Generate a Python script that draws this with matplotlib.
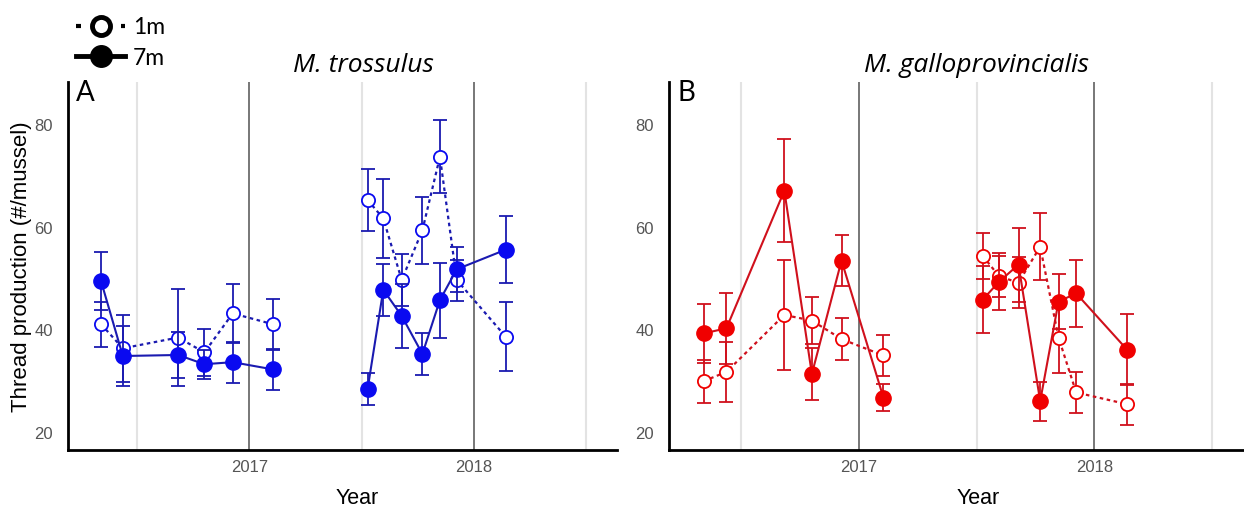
import numpy as np
import matplotlib.pyplot as plt
from matplotlib.lines import Line2D

plt.rcParams['font.family'] = 'Liberation Sans'

# sampling dates (decimal year), two deployment seasons
dates = [2016.340, 2016.437, 2016.683, 2016.800, 2016.926, 2017.104,
         2017.526, 2017.596, 2017.678, 2017.770, 2017.848, 2017.923, 2018.140]
season = [1, 1, 1, 1, 1, 1, 2, 2, 2, 2, 2, 2, 2]

# M. trossulus, mean thread production and standard error
tros_7m = [49.6, 35.0, 35.2, 33.4, 33.8, 32.4, 28.5, 47.9, 42.8, 35.4, 45.9, 51.9, 55.7]
tros_7m_se = [5.7, 5.9, 4.5, 2.8, 4.0, 4.0, 3.1, 5.1, 6.3, 4.1, 7.3, 4.4, 6.5]
tros_1m = [41.2, 36.5, 38.6, 35.7, 43.3, 41.2, 65.4, 61.8, 49.8, 59.5, 73.8, 49.8, 38.8]
tros_1m_se = [4.4, 6.5, 9.4, 4.6, 5.7, 5.0, 6.0, 7.7, 5.1, 6.5, 7.1, 4.0, 6.7]

# M. galloprovincialis
gallo_7m = [39.4, 40.4, 67.2, 31.5, 53.6, 26.9, 46.0, 49.5, 52.8, 26.2, 45.6, 47.2, 36.2]
gallo_7m_se = [5.8, 6.9, 10.0, 5.1, 5.0, 2.7, 6.6, 5.5, 7.2, 3.8, 5.4, 6.5, 6.9]
gallo_1m = [30.1, 31.9, 43.0, 41.9, 38.3, 35.1, 54.5, 50.5, 49.3, 56.3, 38.6, 27.9, 25.6]
gallo_1m_se = [4.2, 5.8, 10.8, 4.5, 4.1, 4.0, 4.5, 4.0, 5.0, 6.5, 7.0, 4.0, 4.0]

W, H = 1244, 516
fig = plt.figure(figsize=(W / 100, H / 100), dpi=100)

dates = np.array(dates)
season = np.array(season)


def panel(left, right, fill, line, d7, e7, d1, e1, letter):
    ax = fig.add_axes([left / W, (H - 450) / H, (right - left) / W, (450 - 82) / H])
    ax.set_xlim(2016.193, 2018.636)
    ax.set_ylim(16.69, 88.38)
    for yr in [2016.5, 2017.5, 2018.5]:
        ax.axvline(yr, color='#e3e3e3', lw=1.5, zorder=0)
    for yr in [2017, 2018]:
        ax.axvline(yr, color='#777777', lw=1.4, zorder=0)
    for s in [1, 2]:
        k = season == s
        ax.errorbar(dates[k], np.array(d1)[k], yerr=np.array(e1)[k], color=line,
                    ls=(0, (1.6, 1.6)), lw=1.6, marker='o', ms=9.5, mfc='white',
                    mec=fill, mew=1.3, capsize=5, elinewidth=1.3, capthick=1.3,
                    ecolor=line, zorder=2)
        ax.errorbar(dates[k], np.array(d7)[k], yerr=np.array(e7)[k], color=line,
                    ls='-', lw=1.5, marker='o', ms=11, mfc=fill, mec=fill,
                    capsize=5, elinewidth=1.3, capthick=1.3, ecolor=line, zorder=3)
    ax.set_xticks([2017, 2018])
    ax.set_xticklabels(['2017', '2018'])
    ax.set_yticks([20, 40, 60, 80])
    ax.tick_params(length=0, labelsize=12, labelcolor='#555555')
    ax.tick_params(axis='x', pad=7)
    ax.tick_params(axis='y', pad=11)
    for sp in ['top', 'right']:
        ax.spines[sp].set_visible(False)
    for sp in ['left', 'bottom']:
        ax.spines[sp].set_linewidth(2)
    ax.text(8 / (right - left), 1.005, letter, transform=ax.transAxes, ha='left', va='top',
            fontsize=20, family='Lato')
    return ax


panel(68, 617, '#0a0af0', '#1a1ab0', tros_7m, tros_7m_se, tros_1m, tros_1m_se, 'A')
panel(669, 1244, '#f00000', '#d0101c', gallo_7m, gallo_7m_se, gallo_1m, gallo_1m_se, 'B')

fig.text(363 / W, 1 - 65 / H, 'M. trossulus', ha='center', va='center',
         fontsize=19, style='italic', family='Open Sans')
fig.text(977 / W, 1 - 65 / H, 'M. galloprovincialis', ha='center', va='center',
         fontsize=19, style='italic', family='Open Sans')
fig.text(357 / W, 1 - 498 / H, 'Year', ha='center', va='center', fontsize=15.5)
fig.text(978 / W, 1 - 498 / H, 'Year', ha='center', va='center', fontsize=15.5)
fig.text(22 / W, 1 - 267 / H, 'Thread production (#/mussel)', ha='center', va='center',
         rotation=90, fontsize=16)

handles = [
    Line2D([], [], color='black', ls=(0, (1.2, 4.2)), lw=3, marker='o', ms=13,
           mfc='white', mec='black', mew=3.5),
    Line2D([], [], color='black', ls='-', lw=3.5, marker='o', ms=15.5,
           mfc='black', mec='black'),
]
fig.legend(handles, ['1m', '7m'], loc='upper left', bbox_to_anchor=(61 / W, 1 - 2 / H),
           frameon=False, handlelength=2.15, labelspacing=0.42,
           handletextpad=0.35, borderpad=0.15, prop={'family': 'Lato', 'size': 16.5})

fig.savefig('out.png', dpi=100)
